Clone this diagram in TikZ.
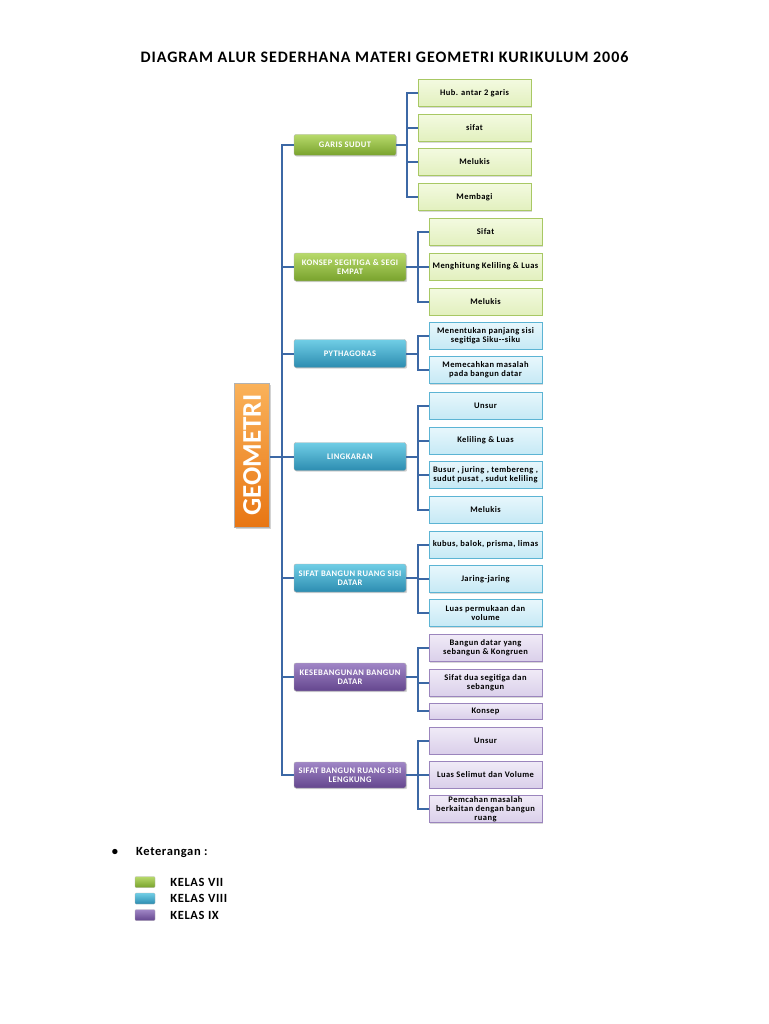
\documentclass[tikz,border=0pt]{standalone}
\usepackage{fontspec}
\setmainfont{Carlito}
\newfontfamily\widefont[LetterSpace=5]{Carlito}
\newfontfamily\titlefont[LetterSpace=6]{Carlito}
\usepackage{xcolor}
\usetikzlibrary{positioning, calc, shadows}
\definecolor{linkblue}{RGB}{60, 104, 165}
\definecolor{greentop}{RGB}{184, 218, 108}
\definecolor{greenbot}{RGB}{120, 162, 44}
\definecolor{bluetop}{RGB}{112, 206, 230}
\definecolor{bluebot}{RGB}{44, 140, 176}
\definecolor{purpletop}{RGB}{160, 134, 198}
\definecolor{purplebot}{RGB}{100, 70, 142}
\definecolor{orangetop}{RGB}{250, 178, 90}
\definecolor{orangebot}{RGB}{232, 118, 20}
\definecolor{lightgreen}{RGB}{243, 250, 224}
\definecolor{lightgreenb}{RGB}{226, 240, 190}
\definecolor{edgegreen}{RGB}{168, 200, 100}
\definecolor{lightblue}{RGB}{232, 247, 252}
\definecolor{lightblueb}{RGB}{198, 233, 245}
\definecolor{edgeblue}{RGB}{92, 180, 212}
\definecolor{lightpurple}{RGB}{240, 235, 247}
\definecolor{lightpurpleb}{RGB}{218, 207, 234}
\definecolor{edgepurple}{RGB}{155, 133, 189}
\tikzstyle{category} = [rectangle, rounded corners=2pt, draw=black!30, line width=0.4pt, text=white, font=\widefont\bfseries\fontsize{8.5}{9.5}\selectfont, align=center, minimum width=112pt, minimum height=28pt, inner sep=0pt, drop shadow={shadow xshift=1.2pt, shadow yshift=-1.2pt, opacity=0.35}]
\tikzstyle{catgreen} = [category, top color=greentop, bottom color=greenbot]
\tikzstyle{catblue} = [category, top color=bluetop, bottom color=bluebot]
\tikzstyle{catpurple} = [category, top color=purpletop, bottom color=purplebot]
\tikzstyle{item} = [rectangle, line width=0.8pt, text=black, font=\widefont\bfseries\fontsize{8.5}{9}\selectfont, align=center, minimum width=113pt, minimum height=27pt, inner sep=0pt, drop shadow={shadow xshift=1.2pt, shadow yshift=-1.2pt, opacity=0.3}]
\tikzstyle{itemgreen} = [item, draw=edgegreen, top color=lightgreen, bottom color=lightgreenb]
\tikzstyle{itemblue} = [item, draw=edgeblue, top color=lightblue, bottom color=lightblueb]
\tikzstyle{itempurple} = [item, draw=edgepurple, top color=lightpurple, bottom color=lightpurpleb]
\tikzstyle{geo} = [rectangle, rotate=90, draw=black!30, line width=0.4pt, top color=orangetop, bottom color=orangebot, text=white, font=\bfseries\fontsize{27}{29}\selectfont, minimum width=144pt, minimum height=35pt, inner sep=0pt, drop shadow={shadow xshift=1.5pt, shadow yshift=-1.5pt, opacity=0.35}]
\tikzstyle{swatch} = [rectangle, rounded corners=1pt, draw=black!30, line width=0.3pt, minimum width=20pt, minimum height=11pt, inner sep=0pt]
\tikzstyle{legendtext} = [font=\widefont\bfseries\fontsize{12.5}{14}\selectfont, text=black, inner sep=0pt]
\tikzstyle{link} = [draw=linkblue, line width=2pt]

\begin{document}
\begin{tikzpicture}[x=1pt, y=-1pt]
    \useasboundingbox (0,0) rectangle (768,1024);

    % Title
    \node[font=\titlefont\bfseries\fontsize{16}{18}\selectfont] (title) at (384.5,57) {DIAGRAM ALUR SEDERHANA MATERI GEOMETRI KURIKULUM 2006};

    % Root
    \node[geo] (geo) at (252,455) {GEOMETRI};

    % Kelas VII
    \node[catgreen, minimum width=102pt, minimum height=21pt] (garis) at (345,145) {GARIS SUDUT};
    \node[itemgreen] (garis1) at (474.5,93) {Hub. antar 2 garis};
    \node[itemgreen] (garis2) at (474.5,128) {sifat};
    \node[itemgreen] (garis3) at (474.5,162) {Melukis};
    \node[itemgreen] (garis4) at (474.5,197) {Membagi};

    \node[catgreen] (konsep) at (350,267) {KONSEP SEGITIGA \& SEGI\\EMPAT};
    \node[itemgreen] (konsep1) at (485.5,232) {Sifat};
    \node[itemgreen] (konsep2) at (485.5,266.5) {Menghitung Keliling \& Luas};
    \node[itemgreen] (konsep3) at (485.5,301.5) {Melukis};

    % Kelas VIII
    \node[catblue] (pyth) at (350,353.5) {PYTHAGORAS};
    \node[itemblue] (pyth1) at (485.5,335.5) {Menentukan panjang sisi\\segitiga Siku--siku};
    \node[itemblue] (pyth2) at (485.5,370) {Memecahkan masalah\\pada bangun datar};

    \node[catblue] (ling) at (350,456.5) {LINGKARAN};
    \node[itemblue] (ling1) at (485.5,405.5) {Unsur};
    \node[itemblue] (ling2) at (485.5,440.5) {Keliling \& Luas};
    \node[itemblue] (ling3) at (485.5,474.5) {Busur , juring , tembereng ,\\sudut pusat , sudut keliling};
    \node[itemblue] (ling4) at (485.5,509.5) {Melukis};

    \node[catblue] (datar) at (350,578) {SIFAT BANGUN RUANG SISI\\DATAR};
    \node[itemblue] (datar1) at (485.5,544.5) {kubus, balok, prisma, limas};
    \node[itemblue] (datar2) at (485.5,579) {Jaring-jaring};
    \node[itemblue] (datar3) at (485.5,613) {Luas permukaan dan\\volume};

    % Kelas IX
    \node[catpurple] (sebangun) at (350,677) {KESEBANGUNAN BANGUN\\DATAR};
    \node[itempurple] (sebangun1) at (485.5,648) {Bangun datar yang\\sebangun \& Kongruen};
    \node[itempurple] (sebangun2) at (485.5,683) {Sifat dua segitiga dan\\sebangun};
    \node[itempurple, minimum height=16pt] (sebangun3) at (485.5,711) {Konsep};

    \node[catpurple, minimum height=26pt] (lengkung) at (350,775) {SIFAT BANGUN RUANG SISI\\LENGKUNG};
    \node[itempurple] (lengkung1) at (485.5,740.5) {Unsur};
    \node[itempurple] (lengkung2) at (485.5,774.5) {Luas Selimut dan Volume};
    \node[itempurple] (lengkung3) at (485.5,809) {Pemcahan masalah\\berkaitan dengan bangun\\ruang};

    % Trunk
    \draw[link] (garis.west) -- ++(-12,0) |- (lengkung.west);
    \foreach \c in {konsep, pyth, ling, datar, sebangun}
        \draw[link] (\c.west) -- ++(-12,0);
    \draw[link] (geo.south |- ling.west) -- ++(13,0);

    % Branches
    \foreach \s in {1,...,4}
        \draw[link] (garis.east) -- ++(11,0) |- (garis\s.west);
    \foreach \s in {1,...,3}
        \draw[link] (konsep.east) -- ++(12,0) |- (konsep\s.west);
    \foreach \s in {1,2}
        \draw[link] (pyth.east) -- ++(12,0) |- (pyth\s.west);
    \foreach \s in {1,...,4}
        \draw[link] (ling.east) -- ++(12,0) |- (ling\s.west);
    \foreach \s in {1,...,3}
        \draw[link] (datar.east) -- ++(12,0) |- (datar\s.west);
    \foreach \s in {1,...,3}
        \draw[link] (sebangun.east) -- ++(12,0) |- (sebangun\s.west);
    \foreach \s in {1,...,3}
        \draw[link] (lengkung.east) -- ++(12,0) |- (lengkung\s.west);

    % Legend
    \node[legendtext] (bullet) at (115,852) {•};
    \node[legendtext, anchor=west] (ket) at (136,852) {Keterangan :};
    \node[swatch, top color=greentop, bottom color=greenbot] (kel7) at (145,882) {};
    \node[swatch, top color=bluetop, bottom color=bluebot] (kel8) at (145,898.5) {};
    \node[swatch, top color=purpletop, bottom color=purplebot] (kel9) at (145,915) {};
    \node[legendtext, right=15pt of kel7] (kel7txt) {KELAS VII};
    \node[legendtext, right=15pt of kel8] (kel8txt) {KELAS VIII};
    \node[legendtext, right=15pt of kel9] (kel9txt) {KELAS IX};
\end{tikzpicture}
\end{document}
